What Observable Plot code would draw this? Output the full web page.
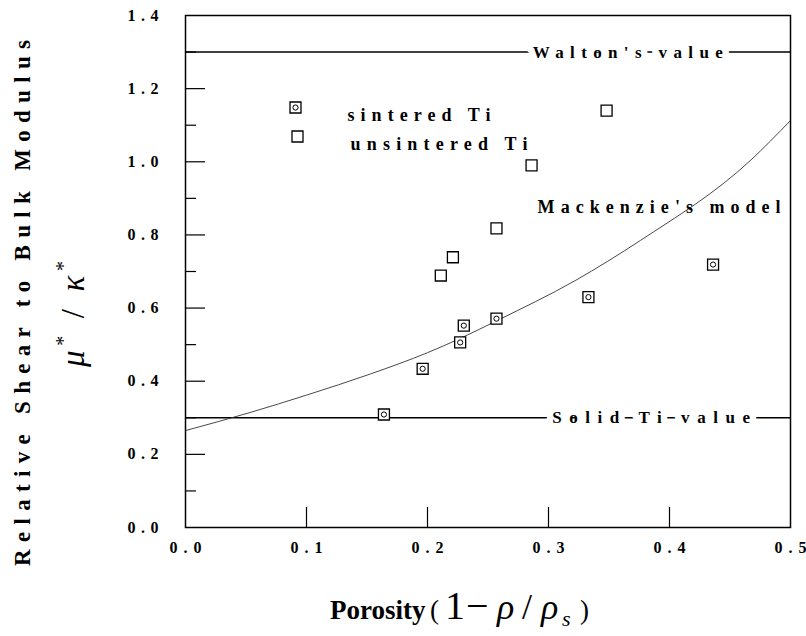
<!DOCTYPE html>
<html>
<head>
<meta charset="utf-8">
<script src="https://cdn.jsdelivr.net/npm/d3@7"></script>
<script src="https://cdn.jsdelivr.net/npm/@observablehq/plot@0.6"></script>
<style>
  body { margin: 0; background: #fff; }
  #chart svg { display: block; }
</style>
</head>
<body>
<div id="chart"></div>
<script>
// ---- data ----
const sinteredPorosity = [0.164, 0.196, 0.227, 0.230, 0.257, 0.333, 0.436];
const sinteredRatio    = [0.309, 0.434, 0.506, 0.552, 0.571, 0.630, 0.719];

const unsinteredPorosity = [0.211, 0.221, 0.257, 0.286, 0.348];
const unsinteredRatio    = [0.689, 0.739, 0.818, 0.990, 1.140];

const mackenziePorosity = [0.000, 0.054, 0.100, 0.153, 0.200, 0.227, 0.257, 0.322, 0.376, 0.467, 0.500];
const mackenzieRatio    = [0.265, 0.315, 0.362, 0.420, 0.478, 0.517, 0.565, 0.675, 0.785, 1.004, 1.113];

const waltonValue = 1.3;
const solidTiValue = 0.3;

const xTicks = [0, 0.1, 0.2, 0.3, 0.4, 0.5];
const yMajorTicks = [0, 0.2, 0.4, 0.6, 0.8, 1.0, 1.2, 1.4];
const yMinorTicks = [0.1, 0.3, 0.5, 0.7, 0.9, 1.1, 1.3];

const legendLabels = ["sintered Ti", "unsintered Ti"];
const annotationLabels = ["Walton's value", "Mackenzie's model", "Solid Ti value"];
const xTitle = "Porosity";
const yTitle = "Relative Shear to Bulk Modulus";

// ---- tables ----
const sintered = sinteredPorosity.map((p, i) => ({p, r: sinteredRatio[i]}));
const unsintered = unsinteredPorosity.map((p, i) => ({p, r: unsinteredRatio[i]}));
const mackenzie = mackenziePorosity.map((p, i) => ({p, r: mackenzieRatio[i]}));

const fmt = d3.format(".1f");
const serif = "'Liberation Serif', 'Times New Roman', serif";

const plot = Plot.plot({
  width: 806,
  height: 636,
  marginLeft: 185,
  marginRight: 16,
  marginTop: 15,
  marginBottom: 109,
  x: {domain: [0, 0.5], label: null},
  y: {domain: [0, 1.4], label: null},
  style: {fontFamily: serif, background: "white", color: "black"},
  marks: [
    // inward tick marks
    Plot.axisX(xTicks.slice(1, -1), {anchor: "bottom", label: null, tickSize: -20, tickFormat: () => "", strokeWidth: 1.2}),
    Plot.axisY(yMajorTicks.slice(1, -1), {anchor: "left", label: null, tickSize: -20, tickFormat: () => "", strokeWidth: 1.2}),
    Plot.axisY(yMinorTicks, {anchor: "left", label: null, tickSize: -11, tickFormat: () => "", strokeWidth: 1.2}),
    // tick labels
    Plot.axisX(xTicks, {anchor: "bottom", label: null, tickSize: 0, tickPadding: 14, tickFormat: fmt, fontSize: 16, fontWeight: "bold"}),
    Plot.axisY(yMajorTicks, {anchor: "left", label: null, tickSize: 0, tickPadding: 27, tickFormat: fmt, fontSize: 16, fontWeight: "bold"}),
    // reference lines
    Plot.ruleY([waltonValue, solidTiValue], {stroke: "black", strokeWidth: 1.5}),
    // Mackenzie's model
    Plot.line(mackenzie, {x: "p", y: "r", curve: "monotone-x", stroke: "#333", strokeWidth: 0.9}),
    // data
    Plot.dot(sintered, {x: "p", y: "r", symbol: "square", r: 6.2, stroke: "black", strokeWidth: 1.3, fill: "white"}),
    Plot.dot(sintered, {x: "p", y: "r", r: 2.6, stroke: "black", strokeWidth: 1, fill: "none"}),
    Plot.dot(unsintered, {x: "p", y: "r", symbol: "square", r: 6.2, stroke: "black", strokeWidth: 1.3, fill: "white"}),
    // legend
    Plot.dot([legendLabels[0]], {frameAnchor: "top-left", dx: 110, dy: 92, symbol: "square", r: 6.2, stroke: "black", strokeWidth: 1.3, fill: "white"}),
    Plot.dot([legendLabels[0]], {frameAnchor: "top-left", dx: 110, dy: 92, r: 2.6, stroke: "black", strokeWidth: 1, fill: "none"}),
    Plot.dot([legendLabels[1]], {frameAnchor: "top-left", dx: 112, dy: 121, symbol: "square", r: 6.2, stroke: "black", strokeWidth: 1.3, fill: "white"}),
    Plot.text([legendLabels[0]], {frameAnchor: "top-left", dx: 162, dy: 93, text: d => d, textAnchor: "start", fontSize: 18, fontWeight: "bold"}),
    Plot.text([legendLabels[1]], {frameAnchor: "top-left", dx: 165, dy: 122, text: d => d, textAnchor: "start", fontSize: 18, fontWeight: "bold"}),
    // annotations
    Plot.text([annotationLabels[0]], {x: 0.287, y: waltonValue, text: d => d, textAnchor: "start", fontSize: 17, fontWeight: "bold", fill: "black", stroke: "white", strokeWidth: 13}),
    Plot.text([annotationLabels[1]], {x: 0.291, y: 0.875, text: d => d, textAnchor: "start", fontSize: 18, fontWeight: "bold"}),
    Plot.text([annotationLabels[2]], {x: 0.303, y: solidTiValue, text: d => d, textAnchor: "start", fontSize: 17, fontWeight: "bold", fill: "black", stroke: "white", strokeWidth: 13}),
    Plot.frame({stroke: "black", strokeWidth: 1.5})
  ]
});

document.getElementById("chart").appendChild(plot);

const svg = d3.select(plot);
// spread letters like the typeset original
const spreadText = (content, len) => svg.selectAll("text")
  .filter(function () { return this.textContent === content; })
  .attr("textLength", len).attr("lengthAdjust", "spacing");
spreadText(legendLabels[0], 143);
spreadText(legendLabels[1], 177);
spreadText(annotationLabels[0], 190);
spreadText(annotationLabels[1], 243);
spreadText(annotationLabels[2], 198);
svg.selectAll("text")
  .filter(function () { return /^\d\.\d$/.test(this.textContent); })
  .each(function () {
    const isX = this.closest('g[aria-label^="x-axis"]') !== null;
    d3.select(this).attr("textLength", isX ? 32 : 31).attr("lengthAdjust", "spacing");
  });

// y title
svg.append("text")
  .attr("transform", "translate(30,303) rotate(-90)")
  .attr("text-anchor", "middle")
  .attr("font-family", serif)
  .attr("font-size", 23)
  .attr("font-weight", "bold")
  .attr("textLength", 526)
  .attr("lengthAdjust", "spacing")
  .text(yTitle);

// mu*/kappa*
const mk = svg.append("text")
  .attr("transform", "translate(84,314) rotate(-90)")
  .attr("text-anchor", "middle")
  .attr("font-family", serif)
  .attr("font-size", 33)
  .attr("textLength", 106)
  .attr("lengthAdjust", "spacing");
mk.append("tspan").attr("font-style", "italic").text("μ");
mk.append("tspan").attr("font-size", 20).attr("dy", -14).text("*");
mk.append("tspan").attr("dy", 14).text(" / ");
mk.append("tspan").attr("font-style", "italic").text("κ");
mk.append("tspan").attr("font-size", 20).attr("dy", -14).text("*");

// x title
const xl = svg.append("text")
  .attr("y", 619)
  .attr("text-anchor", "start")
  .attr("font-family", serif);
xl.append("tspan").attr("x", 330).attr("font-size", 27).attr("font-weight", "bold").text(xTitle);
xl.append("tspan").attr("x", 430).attr("font-size", 27).text("(");
xl.append("tspan").attr("x", 445).attr("font-size", 40).text("1");
xl.append("tspan").attr("x", 466).attr("font-size", 40).text("−");
xl.append("tspan").attr("x", 497).attr("font-size", 36).attr("font-style", "italic").text("ρ");
xl.append("tspan").attr("x", 522).attr("font-size", 36).text("/");
xl.append("tspan").attr("x", 541).attr("font-size", 36).attr("font-style", "italic").text("ρ");
xl.append("tspan").attr("x", 562).attr("dy", 7).attr("font-size", 22).attr("font-style", "italic").text("s");
xl.append("tspan").attr("x", 580).attr("dy", -7).attr("font-size", 27).text(")");
</script>
</body>
</html>
